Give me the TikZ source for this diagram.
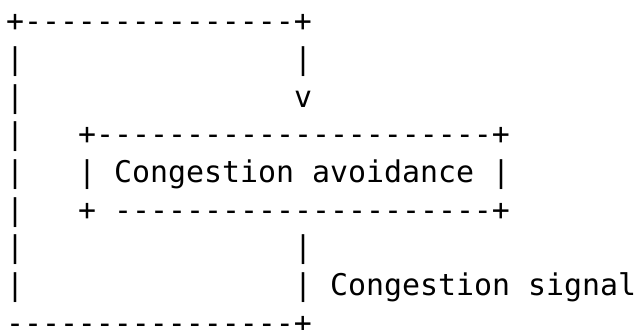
\documentclass[tikz,border=0pt]{standalone}
\usepackage{fontspec}
\setmonofont{DejaVu Sans Mono}
\usepackage{tikz}
\usetikzlibrary{positioning}

\tikzset{
  ascii/.style={font=\ttfamily\fontsize{29.9}{36}\selectfont, text=black,
    inner sep=0pt, outer sep=0pt, anchor=base west}
}

\begin{document}
\begin{tikzpicture}
  \useasboundingbox (0pt,0pt) rectangle (639pt,329pt);
  \begin{scope}[shift={(6pt,297.2pt)}, x=18pt, y=-37.7pt]
    % outer loop, top edge
    \node[ascii] (looptop) at (0,0) {+---------------+};
    \node[ascii] (downbar) at (16,1) {|};
    \node[ascii] (downtip) at (16,2) {v};

    % left side of the loop
    \foreach \r in {1,...,7}
      \node[ascii] (leftbar-\r) at (0,\r) {|};

    % Congestion avoidance box
    \node[ascii] (boxtop) at (4,3) {+----------------------+};
    \node[ascii] (boxleft) at (4,4) {|};
    \node[ascii] (avoid) at (6,4) {Congestion avoidance};
    \node[ascii] (boxright) at (27,4) {|};
    \node[ascii] (boxcorner) at (4,5) {+};
    \node[ascii] (boxbottom) at (6,5) {---------------------+};

    % signal path back to the loop
    \node[ascii] (sigbar-1) at (16,6) {|};
    \node[ascii] (sigbar-2) at (16,7) {|};
    \node[ascii] (signal) at (18,7) {Congestion signal};
    \node[ascii] (loopbottom) at (0,8) {----------------+};
  \end{scope}
\end{tikzpicture}
\end{document}
